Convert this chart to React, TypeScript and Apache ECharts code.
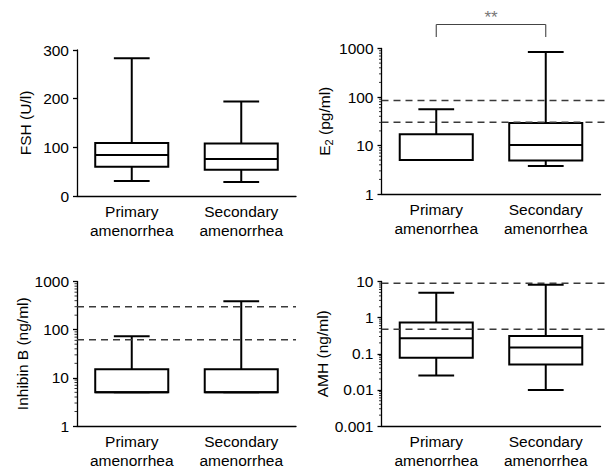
import React, { useEffect, useRef } from "react";
import * as echarts from "echarts";

const CATEGORIES = ["Primary\namenorrhea", "Secondary\namenorrhea"];

// [min, Q1, median, Q3, max] per category
const FSH_BOX = [
  [31, 60, 84, 109, 283],
  [29, 54, 76, 108, 194],
];
const E2_BOX = [
  [5, 5, 5, 17, 56],
  [3.8, 4.9, 10.3, 29, 847],
];
const INHB_BOX = [
  [5, 5, 5, 15, 73],
  [5, 5, 5, 15, 390],
];
const AMH_BOX = [
  [0.025, 0.077, 0.27, 0.73, 4.9],
  [0.01, 0.05, 0.15, 0.31, 8.1],
];

// reference-range dashed lines
const E2_REF = [30, 85];
const INHB_REF = [62, 300];
const AMH_REF = [0.48, 9.0];

// axis ranges
const FSH_RANGE = [0, 300];
const FSH_TICK = 100;
const E2_RANGE = [1, 1000];
const INHB_RANGE = [1, 1000];
const AMH_RANGE = [0.001, 10];

// minor log ticks
const MINOR_MULT = [2, 3, 4, 5, 6, 7, 8, 9];
const E2_DECADES = [1, 10, 100];
const INHB_DECADES = [1, 10, 100];
const AMH_DECADES = [0.001, 0.01, 0.1, 1];

const SIGNIF = "**";

const FONT = "'Liberation Sans', Arial, Helvetica, sans-serif";
const FS = 15.5;

function minorValues(decades: number[]) {
  const out: number[][] = [];
  decades.forEach((d) => MINOR_MULT.forEach((m) => out.push([0, +(d * m).toPrecision(6)])));
  return out;
}

function boxRender(params: any, api: any) {
  const idx = api.value(0);
  const v = [1, 2, 3, 4, 5].map((i) => api.value(i));
  const x = api.coord([idx, v[2]])[0];
  const band = api.size([1, 0])[0];
  const bw = band * 0.667;
  const cw = bw * 0.49;
  const y = v.map((val: number) => api.coord([idx, val])[1]);
  const st = { stroke: "#000", lineWidth: 2 };
  return {
    type: "group",
    children: [
      { type: "line", shape: { x1: x, y1: y[4], x2: x, y2: y[3] }, style: st },
      { type: "line", shape: { x1: x, y1: y[0], x2: x, y2: y[1] }, style: st },
      { type: "line", shape: { x1: x - cw / 2, y1: y[4], x2: x + cw / 2, y2: y[4] }, style: st },
      { type: "line", shape: { x1: x - cw / 2, y1: y[0], x2: x + cw / 2, y2: y[0] }, style: st },
      {
        type: "rect",
        shape: { x: x - bw / 2, y: y[3], width: bw, height: y[1] - y[3] },
        style: { fill: "#fff", stroke: "#000", lineWidth: 2 },
      },
      { type: "line", shape: { x1: x - bw / 2, y1: y[2], x2: x + bw / 2, y2: y[2] }, style: st },
    ],
  };
}

function dashRender(ext: number) {
  return (params: any, api: any) => {
    const val = api.value(1);
    const band = api.size([1, 0])[0];
    const p = api.coord([0, val]);
    const x0 = p[0] - band / 2;
    const x1 = x0 + band * CATEGORIES.length + ext;
    return {
      type: "line",
      shape: { x1: x0, y1: p[1], x2: x1, y2: p[1] },
      style: { stroke: "#3a3a3a", lineWidth: 1.5, lineDash: [7, 5] },
    };
  };
}

function minorRender(params: any, api: any) {
  const val = api.value(1);
  const band = api.size([1, 0])[0];
  const p = api.coord([0, val]);
  const x0 = p[0] - band / 2;
  return {
    type: "line",
    shape: { x1: x0 - 2.5, y1: p[1], x2: x0, y2: p[1] },
    style: { stroke: "#000", lineWidth: 0.8 },
  };
}

function bracketRender(top: number) {
  return (params: any, api: any) => {
    const a = api.coord([0, top]);
    const b = api.coord([1, top]);
    const yTop = a[1];
    const yl = yTop - 24;
    const ye = yTop - 11.5;
    const st = { stroke: "#444", lineWidth: 1.1 };
    return {
      type: "group",
      children: [
        { type: "line", shape: { x1: a[0], y1: yl, x2: b[0], y2: yl }, style: st },
        { type: "line", shape: { x1: a[0], y1: yl, x2: a[0], y2: ye }, style: st },
        { type: "line", shape: { x1: b[0], y1: yl, x2: b[0], y2: ye }, style: st },
        {
          type: "text",
          style: {
            text: SIGNIF,
            x: (a[0] + b[0]) / 2,
            y: yTop - 31,
            align: "center",
            verticalAlign: "middle",
            fill: "#777",
            font: `17px ${FONT}`,
          },
        },
      ],
    };
  };
}

const labelFmt = (v: number) => String(+Number(v).toPrecision(6));

function makeX(gridIndex: number) {
  return {
    type: "category",
    gridIndex,
    data: CATEGORIES,
    boundaryGap: true,
    axisLine: { lineStyle: { color: "#000", width: 1.3 } },
    axisTick: { alignWithLabel: true, length: 4, lineStyle: { color: "#000", width: 1.3 } },
    axisLabel: { color: "#000", fontSize: FS, fontFamily: FONT, lineHeight: 19, margin: 6 },
    splitLine: { show: false },
  };
}

function makeY(gridIndex: number, type: string, range: number[], name: any, nameGap: number, extra: any = {}) {
  return {
    type,
    gridIndex,
    min: range[0],
    max: range[1],
    name,
    nameLocation: "middle",
    nameGap,
    nameTextStyle: {
      color: "#000",
      fontSize: FS,
      fontFamily: FONT,
      rich: {
        a: { fontSize: FS, fontFamily: FONT, color: "#000" },
        s: { fontSize: 11, fontFamily: FONT, color: "#000", padding: [9, 0, 0, 0] },
      },
    },
    axisLine: { show: true, lineStyle: { color: "#000", width: 1.3 } },
    axisTick: { show: true, length: 4, lineStyle: { color: "#000", width: 1.3 } },
    axisLabel: { color: "#000", fontSize: FS, fontFamily: FONT, margin: 8, formatter: labelFmt },
    splitLine: { show: false },
    minorTick: { show: false },
    ...extra,
  };
}

function boxSeries(i: number, box: number[][]) {
  return {
    type: "custom",
    xAxisIndex: i,
    yAxisIndex: i,
    renderItem: boxRender,
    encode: { x: 0, y: [1, 2, 3, 4, 5] },
    data: box.map((b, k) => [k, ...b]),
    z: 3,
  };
}

function dashSeries(i: number, ref: number[], ext: number) {
  return {
    type: "custom",
    xAxisIndex: i,
    yAxisIndex: i,
    renderItem: dashRender(ext),
    encode: { x: 0, y: 1 },
    data: ref.map((r) => [0, r]),
    clip: false,
    z: 4,
  };
}

function minorSeries(i: number, decades: number[]) {
  return {
    type: "custom",
    xAxisIndex: i,
    yAxisIndex: i,
    renderItem: minorRender,
    encode: { x: 0, y: 1 },
    data: minorValues(decades),
    clip: false,
    z: 5,
  };
}

export default function App() {
  const ref = useRef<HTMLDivElement>(null);
  useEffect(() => {
    if (!ref.current) return;
    const chart = echarts.init(ref.current, undefined, { renderer: "svg" });
    const option: any = {
      animation: false,
      backgroundColor: "#fff",
      textStyle: { fontFamily: FONT },
      grid: [
        { left: 77, width: 219, top: 50, height: 146 },
        { left: 381.5, width: 219, top: 48.5, height: 145.5 },
        { left: 77, width: 219, top: 281.5, height: 144.5 },
        { left: 381.5, width: 219, top: 281.5, height: 144.5 },
      ],
      xAxis: [makeX(0), makeX(1), makeX(2), makeX(3)],
      yAxis: [
        makeY(0, "value", FSH_RANGE, "FSH (U/l)", 44, { interval: FSH_TICK }),
        makeY(1, "log", E2_RANGE, "{a|E}{s|2}{a| (pg/ml)}", 47, { logBase: 10 }),
        makeY(2, "log", INHB_RANGE, "Inhibin B (ng/ml)", 46, { logBase: 10 }),
        makeY(3, "log", AMH_RANGE, "AMH (ng/ml)", 48, { logBase: 10 }),
      ],
      series: [
        boxSeries(0, FSH_BOX),
        boxSeries(1, E2_BOX),
        boxSeries(2, INHB_BOX),
        boxSeries(3, AMH_BOX),
        dashSeries(1, E2_REF, 7),
        dashSeries(2, INHB_REF, 0),
        dashSeries(3, AMH_REF, 7),
        minorSeries(1, E2_DECADES),
        minorSeries(2, INHB_DECADES),
        minorSeries(3, AMH_DECADES),
        {
          type: "custom",
          xAxisIndex: 1,
          yAxisIndex: 1,
          renderItem: bracketRender(E2_RANGE[1]),
          encode: { x: 0, y: 1 },
          data: [[0, E2_RANGE[1]]],
          clip: false,
          z: 5,
        },
      ],
    };
    chart.setOption(option);
    return () => chart.dispose();
  }, []);
  return (
    <div
      ref={ref}
      style={{ position: "fixed", left: 0, top: 0, width: 607, height: 470, background: "#fff" }}
    />
  );
}
